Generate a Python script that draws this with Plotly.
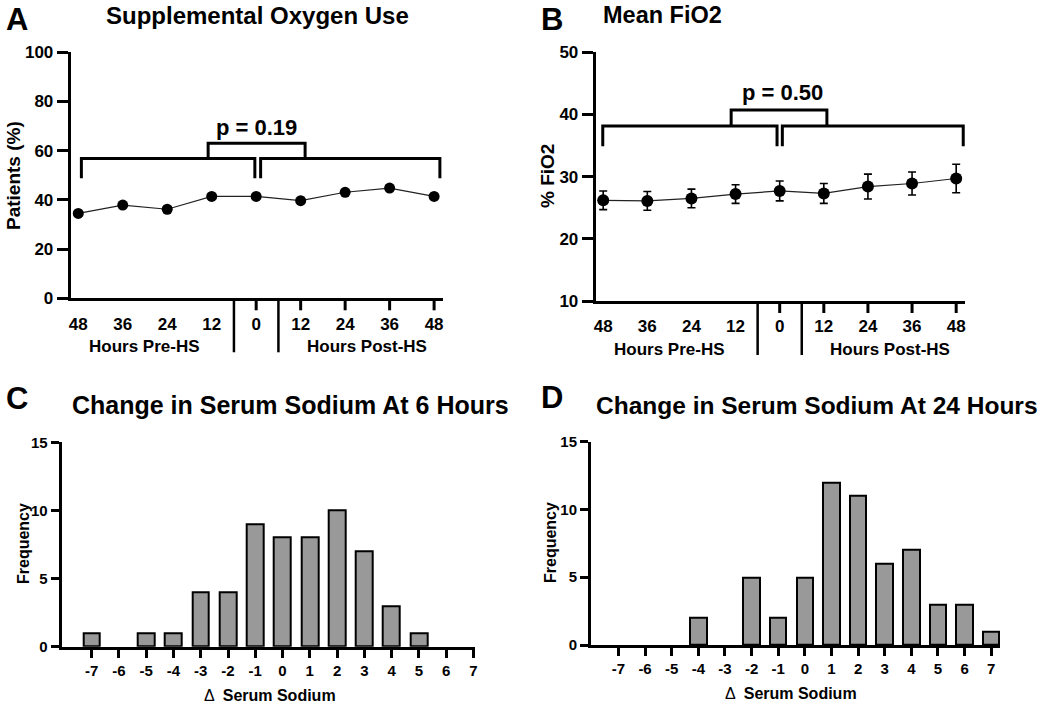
import plotly.graph_objects as go

# ---------------- data ----------------
hour_labels = ["48", "36", "24", "12", "0", "12", "24", "36", "48"]
pre_idx = [0, 1, 2, 3]
post_idx = [4, 5, 6, 7, 8]

oxygen_pct = [34.5, 37.9, 36.2, 41.4, 41.4, 39.7, 43.1, 44.8, 41.4]
p_oxygen = "p = 0.19"

fio2_mean = [26.2, 26.1, 26.5, 27.2, 27.7, 27.3, 28.4, 28.9, 29.7]
fio2_err = [1.5, 1.5, 1.5, 1.5, 1.6, 1.6, 2.0, 1.85, 2.3]
p_fio2 = "p = 0.50"

sodium_change = [-7, -6, -5, -4, -3, -2, -1, 0, 1, 2, 3, 4, 5, 6, 7]
sodium_labels = ["-7", "-6", "-5", "-4", "-3", "-2", "-1", "0", "1", "2", "3", "4", "5", "6", "7"]
freq_6h = [1, 0, 1, 1, 4, 4, 9, 8, 8, 10, 7, 3, 1, 0, 0]
freq_24h = [0, 0, 0, 2, 0, 5, 2, 5, 12, 11, 6, 7, 3, 3, 1]

titles = ["Supplemental Oxygen Use", "Mean FiO2",
          "Change in Serum Sodium At 6 Hours", "Change in Serum Sodium At 24 Hours"]
letters = ["A", "B", "C", "D"]

# ---------------- style ----------------
W, H = 1050, 703
FONT = "Liberation Sans, Arial, Helvetica, sans-serif"
BLACK = "#000000"


def px(x):
    return x / W


def py(y):
    return 1 - y / H


fig = go.Figure()
x_idx = list(range(len(hour_labels)))

# A: line + markers
fig.add_trace(go.Scatter(x=x_idx, y=oxygen_pct, mode="lines+markers",
                         line=dict(color="#222222", width=1.2),
                         marker=dict(color=BLACK, size=11),
                         xaxis="x", yaxis="y", showlegend=False))
# B: line + markers + error bars
fig.add_trace(go.Scatter(x=x_idx, y=fio2_mean, mode="lines+markers",
                         line=dict(color="#222222", width=1.2),
                         marker=dict(color=BLACK, size=12),
                         error_y=dict(type="data", array=fio2_err, visible=True,
                                      color=BLACK, thickness=1.6, width=4),
                         xaxis="x2", yaxis="y2", showlegend=False))
# C, D: histograms as bars (no outline for empty bins)
for freqs, xa, ya in [(freq_6h, "x3", "y3"), (freq_24h, "x4", "y4")]:
    fig.add_trace(go.Bar(x=sodium_change, y=freqs, width=0.62,
                         marker=dict(color="#999999",
                                     line=dict(color=BLACK,
                                               width=[2 if f > 0 else 0 for f in freqs])),
                         xaxis=xa, yaxis=ya, showlegend=False))

base_axis = dict(showline=True, linecolor=BLACK, linewidth=3, showgrid=False,
                 zeroline=False, ticks="outside", tickcolor=BLACK, tickwidth=3,
                 mirror=False, fixedrange=True, automargin=False)


def line_x_axis(domain, anchor):
    return dict(base_axis, domain=domain, anchor=anchor, range=[-0.17, 8.2],
                tickvals=x_idx, ticktext=hour_labels, ticklen=8,
                tickcolor="rgba(0,0,0,0)",
                tickfont=dict(family=FONT, size=17, color=BLACK, weight="bold"))


def hist_x_axis(domain, anchor, rng):
    return dict(base_axis, domain=domain, anchor=anchor, range=rng,
                tickvals=sodium_change, ticktext=sodium_labels, ticklen=8,
                tickfont=dict(family=FONT, size=15, color=BLACK, weight="bold"))


def hist_y_axis(domain, anchor):
    return dict(base_axis, domain=domain, anchor=anchor, range=[0, 15],
                tickvals=[0, 5, 10, 15], ticklen=8,
                tickfont=dict(family=FONT, size=15, color=BLACK, weight="bold"))


fig.update_layout(
    template="none",
    width=W, height=H, margin=dict(l=0, r=0, t=0, b=0, pad=0),
    paper_bgcolor="white", plot_bgcolor="white", bargap=0,
    xaxis=line_x_axis([px(70.7), px(443)], "y"),
    yaxis=dict(base_axis, domain=[py(298.3), py(52.3)], anchor="x", range=[0, 100],
               tickvals=[0, 20, 40, 60, 80, 100], ticklen=11,
               tickfont=dict(family=FONT, size=17, color=BLACK, weight="bold")),
    xaxis2=line_x_axis([px(595.7), px(965)], "y2"),
    yaxis2=dict(base_axis, domain=[py(301), py(52.3)], anchor="x2", range=[10, 50],
                tickvals=[10, 20, 30, 40, 50], ticklen=11,
                tickfont=dict(family=FONT, size=17, color=BLACK, weight="bold")),
    xaxis3=hist_x_axis([px(61.7), px(475)], "y3", [-8.1, 7.06]),
    yaxis3=hist_y_axis([py(646.7), py(442.3)], "x3"),
    xaxis4=hist_x_axis([px(591), px(1000)], "y4", [-8.03, 7.33]),
    yaxis4=hist_y_axis([py(645), py(441.7)], "x4"),
)

shapes = []
annotations = []


def add_time_decor(xa, ya, dom_px_h, ycenter_hours_px):
    # visible tick marks on post-HS side
    for i in post_idx:
        shapes.append(dict(type="line", xref=xa, yref=ya + " domain", x0=i, x1=i,
                           y0=0, y1=-12 / dom_px_h, line=dict(color=BLACK, width=3)))
    # divider lines around the 0 time point
    for xv in [pre_idx[-1] + 0.5, post_idx[0] + 0.5]:
        shapes.append(dict(type="line", xref=xa, yref=ya + " domain", x0=xv, x1=xv,
                           y0=0, y1=-54 / dom_px_h, line=dict(color=BLACK, width=2.5)))
    pre_c = (pre_idx[0] + pre_idx[-1]) / 2
    post_c = (post_idx[1] + post_idx[-1]) / 2
    for txt, xc in [("Hours Pre-HS", pre_c), ("Hours Post-HS", post_c)]:
        annotations.append(dict(text=txt, xref=xa, yref=ya + " domain", x=xc,
                                y=-ycenter_hours_px / dom_px_h, yanchor="middle",
                                showarrow=False,
                                font=dict(family=FONT, size=17, color=BLACK, weight="bold")))


def add_bracket(xa, ya, x0, x1, ybar, yleg, width=3):
    shapes.append(dict(type="path", xref=xa, yref=ya,
                       path=f"M {x0},{yleg} L {x0},{ybar} L {x1},{ybar} L {x1},{yleg}",
                       line=dict(color=BLACK, width=width)))


add_time_decor("x", "y", 246.0, 48)
add_time_decor("x2", "y2", 248.7, 48)

# brackets A
add_bracket("x", "y", pre_idx[0] + 0.07, post_idx[0] - 0.03, 56.8, 48.8)
add_bracket("x", "y", post_idx[0] + 0.1, post_idx[-1] + 0.13, 56.8, 48.8)
add_bracket("x", "y", post_idx[0] - 1.08, post_idx[0] + 1.1, 63.0, 56.8)
annotations.append(dict(text=p_oxygen, xref="x", yref="y", x=post_idx[0], y=69.5,
                        yanchor="middle", showarrow=False,
                        font=dict(family=FONT, size=22, color=BLACK, weight="bold")))
# brackets B
add_bracket("x2", "y2", pre_idx[0] - 0.01, post_idx[0] - 0.06, 38.15, 34.9)
add_bracket("x2", "y2", post_idx[0] + 0.06, post_idx[-1] + 0.16, 38.15, 34.9)
add_bracket("x2", "y2", post_idx[0] - 1.1, post_idx[0] + 1.07, 40.7, 38.15)
annotations.append(dict(text=p_fio2, xref="x2", yref="y2", x=post_idx[0] + 0.07, y=43.6,
                        yanchor="middle", showarrow=False,
                        font=dict(family=FONT, size=22, color=BLACK, weight="bold")))


def paper_text(text, x, y, size, weight="bold", angle=0, yanchor="middle"):
    annotations.append(dict(text=text, xref="paper", yref="paper", x=px(x), y=py(y),
                            xanchor="center", yanchor=yanchor, showarrow=False,
                            textangle=angle,
                            font=dict(family=FONT, size=size, color=BLACK, weight=weight)))


# panel letters (top row anchored to the top edge so nothing is clipped)
paper_text(letters[0], 17, 0, 31, yanchor="top")
paper_text(letters[1], 552, 0, 31, yanchor="top")
paper_text(letters[2], 17, 398, 31)
paper_text(letters[3], 552, 397, 31)
# titles
paper_text(titles[0], 257, 0, 24, yanchor="top")
paper_text(titles[1], 662, 0, 23.5, yanchor="top")
paper_text(titles[2], 290, 405, 25)
paper_text(titles[3], 817, 405, 24.5)
# axis titles
paper_text("Patients (%)", 14, 176, 19, angle=-90)
paper_text("% FiO2", 548, 176, 19, angle=-90)
paper_text("Frequency", 23, 544, 16, angle=-90)
paper_text("Frequency", 550, 543, 16, angle=-90)
paper_text("Δ  <b>Serum Sodium</b>", 270, 695, 16, weight="normal")
paper_text("Δ  <b>Serum Sodium</b>", 791, 693, 16, weight="normal")

fig.update_layout(shapes=shapes, annotations=annotations)
fig.write_html("out.html", config={"responsive": False, "displayModeBar": False},
               post_script="document.body.style.margin='0px';document.body.style.overflow='hidden';")
